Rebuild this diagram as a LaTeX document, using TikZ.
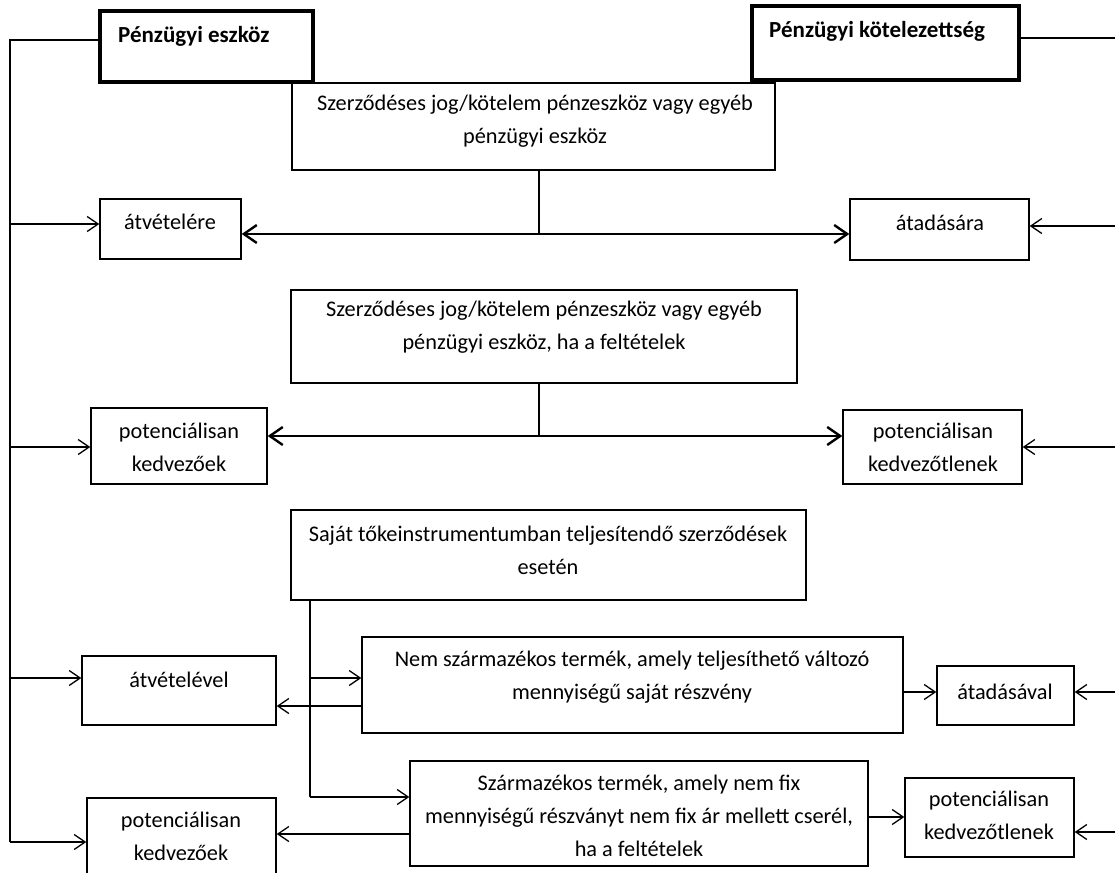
\documentclass[tikz,border=0pt]{standalone}
\usepackage{fontspec}
\setmainfont{Carlito}
\usetikzlibrary{arrows.meta,fit}

\begin{document}
\begin{tikzpicture}[x=1pt,y=-1pt,
  box/.style={draw, line width=1.4pt, inner sep=0pt, rectangle},
  headbox/.style={draw, line width=4.5pt, inner sep=0pt, rectangle},
  txt/.style={align=center, inner sep=0pt, font=\fontsize{22.3}{33}\selectfont},
  headtxt/.style={anchor=west, inner sep=0pt, font=\fontsize{23}{33}\selectfont\bfseries},
  conn/.style={line width=1.3pt},
  arr/.style={conn, -{Straight Barb[length=11pt,width=15pt,line width=1.3pt]}},
  dbl/.style={line width=2.6pt, {Straight Barb[length=13pt,width=18pt,line width=2.4pt]}-{Straight Barb[length=13pt,width=18pt,line width=2.4pt]}}
]
\useasboundingbox (0,0) rectangle (1115,872);

% heading boxes
\node[headbox, fit={(100,11) (313,82)}] (peszk) {};
\node[headtxt] (peszk-t) at (118,36) {Pénzügyi eszköz};
\node[headbox, fit={(752,6) (1019,80)}] (pkot) {};
\node[headtxt] (pkot-t) at (769,31) {Pénzügyi kötelezettség};

% first condition
\node[box, fit={(292,83) (775,170)}] (A) {};
\node[txt] (A-t) at (535,121) {Szerződéses jog/kötelem pénzeszköz vagy egyéb\\pénzügyi eszköz};
\node[box, fit={(100,199) (241,259)}] (atvetelere) {};
\node[txt] (atvetelere-t) at (170,222) {átvételére};
\node[box, fit={(850,199) (1029,260)}] (atadasara) {};
\node[txt] (atadasara-t) at (940,223) {átadására};

% second condition
\node[box, fit={(291,290) (797,383)}] (B) {};
\node[txt] (B-t) at (544,327) {Szerződéses jog/kötelem pénzeszköz vagy egyéb\\pénzügyi eszköz, ha a feltételek};
\node[box, fit={(91,408) (267,484)}] (potk1) {};
\node[txt] (potk1-t) at (179,447) {potenciálisan\\kedvezőek};
\node[box, fit={(843,410) (1022,484)}] (potkt1) {};
\node[txt] (potkt1-t) at (933,447) {potenciálisan\\kedvezőtlenek};

% own equity instruments
\node[box, fit={(291,510) (806,600)}] (C) {};
\node[txt] (C-t) at (548,550) {Saját tőkeinstrumentumban teljesítendő szerződések\\esetén};
\node[box, fit={(82,656) (276,725)}] (atvetelevel) {};
\node[txt] (atvetelevel-t) at (179,680) {átvételével};
\node[box, fit={(362,637) (903,733)}] (D) {};
\node[txt] (D-t) at (632,677) {Nem származékos termék, amely teljesíthető változó\\mennyiségű saját részvény};
\node[box, fit={(937,666) (1074,725)}] (atadasaval) {};
\node[txt] (atadasaval-t) at (1005,692) {átadásával};
\node[box, fit={(410,761) (868,866)}] (E) {};
\node[txt] (E-t) at (639,816) {Származékos termék, amely nem fix\\mennyiségű részványt nem fix ár mellett cserél,\\ha a feltételek};
\node[box, fit={(905,778) (1074,857)}] (potkt2) {};
\node[txt] (potkt2-t) at (989,815) {potenciálisan\\kedvezőtlenek};
\node[box, fit={(87,798) (276,876)}] (potk2) {};
\node[txt] (potk2-t) at (181,836) {potenciálisan\\kedvezőek};

% left trunk (financial asset)
\coordinate (ltop) at (10,40);
\coordinate (lbot) at (10,842);
\draw[conn] (peszk.west |- ltop) -- (ltop) -- (lbot);
\draw[arr] (lbot) -- (potk2.west |- lbot);
\coordinate (l1) at (10,224);
\coordinate (l2) at (10,447);
\coordinate (l3) at (10,678);
\draw[arr] (l1) -- (atvetelere.west |- l1);
\draw[arr] (l2) -- (potk1.west |- l2);
\draw[arr] (l3) -- (atvetelevel.west |- l3);

% right side (financial liability)
\coordinate (r0) at (1115,38);
\draw[conn] (pkot.east |- r0) -- (r0);
\coordinate (r1) at (1115,226);
\coordinate (r2) at (1115,447);
\coordinate (r3) at (1115,692);
\coordinate (r4) at (1115,832);
\draw[arr] (r1) -- (atadasara.east |- r1);
\draw[arr] (r2) -- (potkt1.east |- r2);
\draw[arr] (r3) -- (atadasaval.east |- r3);
\draw[arr] (r4) -- (potkt2.east |- r4);

% double arrows below the two contract boxes
\coordinate (ja) at (539,234);
\draw[conn] (A.south -| ja) -- (ja);
\draw[dbl] (atvetelere.east |- ja) -- (atadasara.west |- ja);
\coordinate (jb) at (539,436);
\draw[conn] (B.south -| jb) -- (jb);
\draw[dbl] (potk1.east |- jb) -- (potkt1.west |- jb);

% branches of the equity-instrument box
\coordinate (c1) at (310,678);
\coordinate (c2) at (310,797);
\draw[conn] (C.south -| c1) -- (c2);
\draw[arr] (c1) -- (D.west |- c1);
\draw[arr] (c2) -- (E.west |- c2);
\coordinate (dl) at (362,706);
\draw[arr] (D.west |- dl) -- (atvetelevel.east |- dl);
\coordinate (dr) at (903,692);
\draw[arr] (D.east |- dr) -- (atadasaval.west |- dr);
\coordinate (el) at (410,834);
\draw[arr] (E.west |- el) -- (potk2.east |- el);
\coordinate (er) at (868,817);
\draw[arr] (E.east |- er) -- (potkt2.west |- er);
\end{tikzpicture}
\end{document}
